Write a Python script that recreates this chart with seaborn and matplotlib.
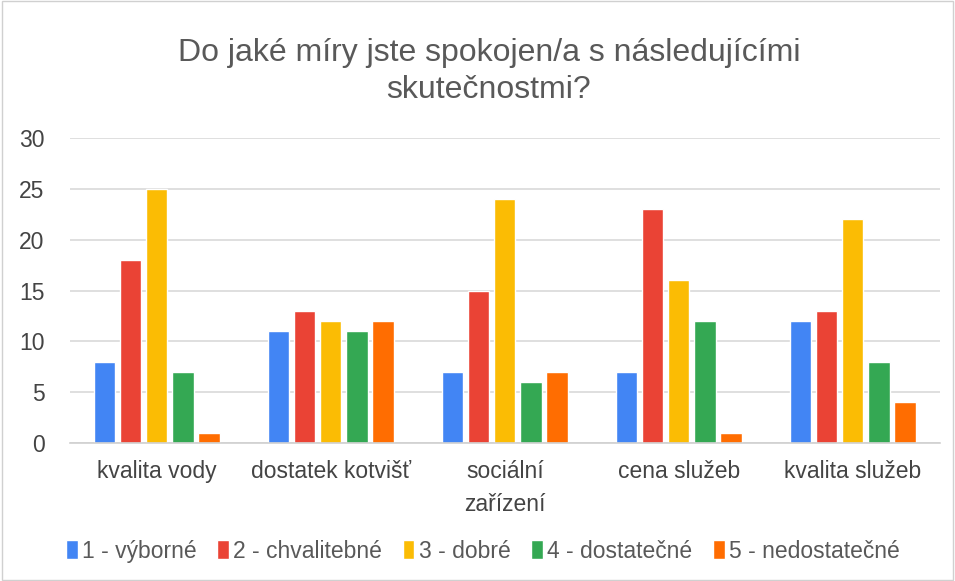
import pandas as pd
import matplotlib.pyplot as plt
import seaborn as sns

# Survey answers per category
categories = ['kvalita vody', 'dostatek kotvišť', 'sociální\nzařízení', 'cena služeb', 'kvalita služeb']
ratings = ['1 - výborné', '2 - chvalitebné', '3 - dobré', '4 - dostatečné', '5 - nedostatečné']
counts_1 = [8, 11, 7, 7, 12]
counts_2 = [18, 13, 15, 23, 13]
counts_3 = [25, 12, 24, 16, 22]
counts_4 = [7, 11, 6, 12, 8]
counts_5 = [1, 12, 7, 1, 4]

colors = ['#4285F4', '#EA4335', '#FBBC04', '#34A853', '#FF6D01']

# Build long table for seaborn
rows = []
for rating, vals in zip(ratings, [counts_1, counts_2, counts_3, counts_4, counts_5]):
    for cat, v in zip(categories, vals):
        rows.append({'category': cat, 'rating': rating, 'count': v})
df = pd.DataFrame(rows)

sns.set_style('white')
plt.rcParams['font.family'] = ['Liberation Sans', 'DejaVu Sans']

fig = plt.figure(figsize=(9.55, 5.81), dpi=100)
ax = fig.add_axes([0.073, 0.2375, 0.911, 0.525])

sns.barplot(data=df, x='category', y='count', hue='rating', palette=colors,
            width=0.75, gap=0.18, ax=ax, saturation=1)

ax.set_ylim(0, 30)
ax.set_yticks(range(0, 31, 5))
ax.yaxis.grid(True, color='#d9d9d9', linewidth=1.2)
ax.set_axisbelow(True)
for side in ['top', 'right', 'left']:
    ax.spines[side].set_visible(False)
ax.spines['bottom'].set_color('#d0d0d0')
ax.spines['bottom'].set_linewidth(1.2)
ax.tick_params(axis='both', length=0, labelsize=16.5, colors='#444444')
ax.tick_params(axis='y', pad=18)
ax.tick_params(axis='x', pad=12)
for lbl in ax.get_xticklabels():
    lbl.set_linespacing(1.55)
ax.set_xlabel('')
ax.set_ylabel('')

fig.suptitle('Do jaké míry jste spokojen/a s následujícími\nskutečnostmi?',
             fontsize=23, color='#595959', x=0.512, y=0.935, linespacing=1.3)

ax.legend(loc='center', bbox_to_anchor=(0.475, -0.355), ncol=5, frameon=False,
          fontsize=16.5, handlelength=0.5, handleheight=0.9, handletextpad=0.2,
          columnspacing=0.9, labelcolor='#595959')

# Light border round the figure
fig.patches.append(plt.Rectangle((0.002, 0.002), 0.996, 0.996, transform=fig.transFigure,
                                 fill=False, edgecolor='#d0d0d0', linewidth=1))

fig.savefig('out.png', dpi=100)
